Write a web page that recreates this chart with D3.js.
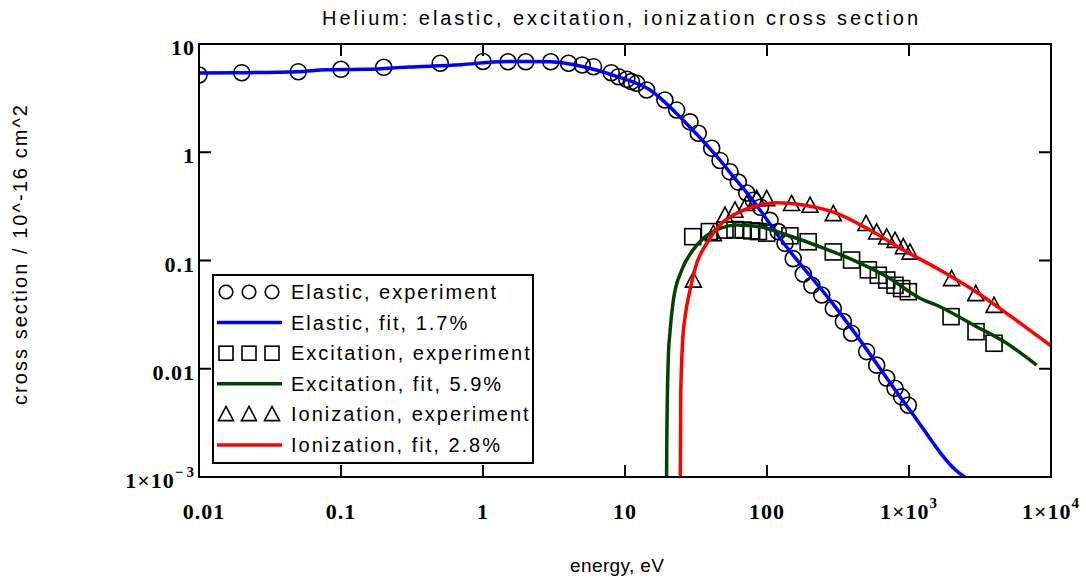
<!DOCTYPE html>
<html>
<head>
<meta charset="utf-8">
<script src="https://cdn.jsdelivr.net/npm/d3@7"></script>
<style>
  html, body { margin: 0; padding: 0; background: #fff; }
  svg { display: block; }
</style>
</head>
<body>
<div id="chart"></div>
<script>
// energy in eV, cross section in 10^-16 cm^2, as [energy, value]
const elasticExp = [
  [0.01, 5.17], [0.02, 5.43], [0.05, 5.55], [0.1, 5.84], [0.2, 6.09], [0.5, 6.64],
  [1, 6.9], [1.5, 6.86], [2, 6.86], [3, 6.86], [4, 6.64], [5, 6.4], [6, 6.17],
  [8, 5.43], [9, 4.99], [10.3, 4.72], [11.1, 4.49], [12.1, 4.34], [14.2, 3.76],
  [19.1, 3.04], [23.1, 2.46], [28.7, 1.91], [32.8, 1.5], [40.8, 1.09], [46.7, 0.84],
  [54.9, 0.66], [62.8, 0.53], [72, 0.42], [80, 0.36], [90, 0.31], [105, 0.235],
  [120, 0.185], [134, 0.144], [153, 0.104], [180, 0.075], [207, 0.059], [243, 0.048],
  [293, 0.036], [345, 0.0273], [394, 0.0213], [503, 0.0144], [592, 0.0108],
  [696, 0.0082], [797, 0.0066], [887, 0.0055], [989, 0.0046]
];
const elasticFit = [
  [0.01, 5.4], [0.02, 5.43], [0.05, 5.55], [0.08, 5.79], [0.15, 5.84], [0.3, 6.13],
  [0.7, 6.44], [1.3, 6.86], [2, 6.9], [3, 6.86], [5, 6.2], [8.8, 5.0], [15, 3.76],
  [25.6, 1.99], [44.5, 0.91], [60.5, 0.555], [75.7, 0.39], [137, 0.134], [278, 0.043],
  [385, 0.0245], [1012, 0.00416], [2270, 0.00108], [2700, 0.00093]
];
const excitationExp = [
  [30, 0.166], [39.3, 0.185], [50.6, 0.191], [59.5, 0.193], [68, 0.191], [78, 0.188],
  [87, 0.185], [99.5, 0.179], [145, 0.169], [195, 0.149], [293, 0.12], [394, 0.101],
  [517, 0.082], [608, 0.073], [697, 0.066], [797, 0.059], [888, 0.055], [989, 0.0515],
  [1977, 0.0303], [2965, 0.022], [3970, 0.0172]
];
const excitationFit = [
  [19.6, 0.0008], [19.7, 0.0022], [20.2, 0.0129], [20.7, 0.0212], [21.9, 0.043],
  [25.1, 0.0817], [29.5, 0.1205], [35.6, 0.16], [46.6, 0.198], [61.2, 0.213],
  [89.3, 0.205], [138, 0.172], [236, 0.134], [405, 0.101], [697, 0.071], [1195, 0.0448],
  [1652, 0.0374], [2837, 0.0254], [4874, 0.0172], [7925, 0.0108]
];
const ionizationExp = [
  [30.3, 0.064], [41.9, 0.172], [50.6, 0.254], [59.5, 0.283], [72, 0.326], [84.6, 0.362],
  [99.5, 0.362], [149, 0.326], [201, 0.314], [293, 0.263], [498, 0.213], [592, 0.178],
  [697, 0.16], [797, 0.149], [912, 0.13], [1016, 0.116], [1995, 0.066], [2951, 0.048],
  [3970, 0.0374]
];
const ionizationFit = [
  [24.5, 0.0008], [24.7, 0.0059], [25.5, 0.0184], [26.5, 0.0303], [28.7, 0.0534],
  [32, 0.0942], [37.6, 0.144], [46.6, 0.213], [61.2, 0.273], [80.2, 0.314], [117, 0.342],
  [180, 0.326], [310, 0.273], [531, 0.191], [912, 0.125], [1652, 0.0817], [2837, 0.0533],
  [4874, 0.0325], [10000, 0.0163]
];

// tick labels: [value, main text, superscript]
const xTicks = [[0.01, "0.01", ""], [0.1, "0.1", ""], [1, "1", ""], [10, "10", ""],
  [100, "100", ""], [1000, "1\u00d710", "3"], [10000, "1\u00d710", "4"]];
const yTicks = [[10, "10", ""], [1, "1", ""], [0.1, "0.1", ""], [0.01, "0.01", ""],
  [0.001, "1\u00d710", "\u2212\u200a3"]];

const legendItems = [
  { label: "Elastic, experiment", type: "circle" },
  { label: "Elastic, fit, 1.7%", type: "line", color: "#0000ff" },
  { label: "Excitation, experiment", type: "square" },
  { label: "Excitation, fit, 5.9%", type: "line", color: "#004400" },
  { label: "Ionization, experiment", type: "triangle" },
  { label: "Ionization, fit, 2.8%", type: "line", color: "#ff0000" }
];

const width = 1086, height = 580;
const margin = { left: 199, right: 1051, top: 44, bottom: 477 };

const svg = d3.select("#chart").append("svg")
  .attr("width", width).attr("height", height)
  .attr("viewBox", `0 0 ${width} ${height}`);

const x = d3.scaleLog().domain([0.01, 10000]).range([margin.left, margin.right]);
const y = d3.scaleLog().domain([0.001, 10]).range([margin.bottom, margin.top]);

svg.append("defs").append("clipPath").attr("id", "plot-clip")
  .append("rect")
  .attr("x", margin.left).attr("y", margin.top)
  .attr("width", margin.right - margin.left)
  .attr("height", margin.bottom - margin.top);

// title and axis titles (stretched to the widths seen in the original)
const sans = "Liberation Sans, Arial, sans-serif";
svg.append("text")
  .attr("x", 620).attr("y", 25)
  .attr("text-anchor", "middle")
  .attr("textLength", 596).attr("lengthAdjust", "spacing")
  .style("font-family", sans)
  .style("font-size", "20px")
  .text("Helium: elastic, excitation, ionization cross section");

svg.append("text")
  .attr("x", 617).attr("y", 572)
  .attr("text-anchor", "middle")
  .attr("textLength", 94).attr("lengthAdjust", "spacing")
  .style("font-family", sans)
  .style("font-size", "19px")
  .text("energy, eV");

svg.append("text")
  .attr("transform", "translate(27, 255) rotate(-90)")
  .attr("text-anchor", "middle")
  .attr("textLength", 300).attr("lengthAdjust", "spacing")
  .style("font-family", sans)
  .style("font-size", "20px")
  .text("cross section / 10^-16 cm^2");

// markers
const plot = svg.append("g").attr("clip-path", "url(#plot-clip)");
const markerStyle = (sel) => sel.attr("fill", "none").attr("stroke", "#000").attr("stroke-width", 1.6);

plot.append("g").selectAll("circle").data(elasticExp).join("circle")
  .attr("cx", (d) => x(d[0])).attr("cy", (d) => y(d[1])).attr("r", 8)
  .call(markerStyle);

plot.append("g").selectAll("rect").data(excitationExp).join("rect")
  .attr("x", (d) => x(d[0]) - 8).attr("y", (d) => y(d[1]) - 8)
  .attr("width", 16).attr("height", 16)
  .call(markerStyle);

const tri = (cx, cy, s) => `M${cx},${cy - s * 0.6}L${cx + s / 2},${cy + s * 0.35}L${cx - s / 2},${cy + s * 0.35}Z`;
plot.append("g").selectAll("path").data(ionizationExp).join("path")
  .attr("d", (d) => tri(x(d[0]), y(d[1]), 16))
  .call(markerStyle);

// fit lines
const line = d3.line().x((d) => x(d[0])).y((d) => y(d[1])).curve(d3.curveMonotoneX);
[[elasticFit, "#0000ff"], [excitationFit, "#004400"], [ionizationFit, "#ff0000"]]
  .forEach(([data, color]) => {
    plot.append("path").datum(data)
      .attr("d", line)
      .attr("fill", "none")
      .attr("stroke", color)
      .attr("stroke-width", 3.5)
      .attr("stroke-linejoin", "round");
  });

// frame and inner ticks on all sides
const axisG = svg.append("g").attr("stroke", "#000").attr("stroke-width", 2);
axisG.append("rect")
  .attr("x", margin.left).attr("y", margin.top)
  .attr("width", margin.right - margin.left)
  .attr("height", margin.bottom - margin.top)
  .attr("fill", "none");

const tickLen = 12;
xTicks.slice(1, -1).forEach(([v]) => {
  axisG.append("line").attr("x1", x(v)).attr("x2", x(v))
    .attr("y1", margin.bottom).attr("y2", margin.bottom - tickLen);
  axisG.append("line").attr("x1", x(v)).attr("x2", x(v))
    .attr("y1", margin.top).attr("y2", margin.top + tickLen);
});
yTicks.slice(1, -1).forEach(([v]) => {
  axisG.append("line").attr("y1", y(v)).attr("y2", y(v))
    .attr("x1", margin.left).attr("x2", margin.left + tickLen);
  axisG.append("line").attr("y1", y(v)).attr("y2", y(v))
    .attr("x1", margin.right).attr("x2", margin.right - tickLen);
});

// tick labels
const labelFont = (sel) => sel
  .style("font-family", "Liberation Serif, Times New Roman, serif")
  .style("font-weight", "bold")
  .style("font-size", "22px")
  .style("letter-spacing", "1px");

xTicks.forEach(([v, main, sup]) => {
  const t = svg.append("text")
    .attr("x", x(v) + (v === 0.01 ? 5 : 0)).attr("y", 519)
    .attr("text-anchor", "middle")
    .call(labelFont);
  t.append("tspan").text(main);
  if (sup) t.append("tspan").attr("dy", -11).style("font-size", "15px").text(sup);
});

yTicks.forEach(([v, main, sup]) => {
  const t = svg.append("text")
    .attr("x", 195).attr("y", y(v) + 11)
    .attr("text-anchor", "end")
    .call(labelFont);
  t.append("tspan").text(main);
  if (sup) t.append("tspan").attr("dy", -11).style("font-size", "15px").text(sup);
});

// legend
const legend = svg.append("g");
legend.append("rect")
  .attr("x", 213).attr("y", 275).attr("width", 320).attr("height", 188)
  .attr("fill", "#fff").attr("stroke", "#000").attr("stroke-width", 2);

legendItems.forEach((item, i) => {
  const cy = 292 + i * 30.6;
  const g = legend.append("g");
  const xs = [226, 249, 272];
  if (item.type === "line") {
    g.append("line").attr("x1", 217).attr("x2", 282).attr("y1", cy).attr("y2", cy)
      .attr("stroke", item.color).attr("stroke-width", 3.5);
  } else if (item.type === "circle") {
    xs.forEach((cx) => g.append("circle").attr("cx", cx).attr("cy", cy).attr("r", 6.8).call(markerStyle));
  } else if (item.type === "square") {
    xs.forEach((cx) => g.append("rect").attr("x", cx - 7).attr("y", cy - 7)
      .attr("width", 14).attr("height", 14).call(markerStyle));
  } else {
    xs.forEach((cx) => g.append("path").attr("d", tri(cx, cy + 1, 15)).call(markerStyle));
  }
  g.append("text")
    .attr("x", 291).attr("y", cy + 7)
    .style("font-family", sans)
    .style("font-size", "20px")
    .style("letter-spacing", "2px")
    .text(item.label);
});
</script>
</body>
</html>
